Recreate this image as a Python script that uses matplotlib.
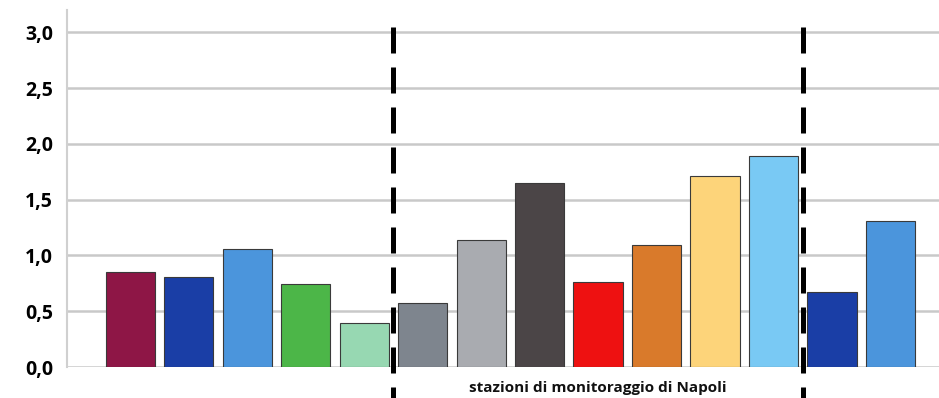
import matplotlib
matplotlib.use("Agg")
import matplotlib.pyplot as plt
import numpy as np

# values per monitoring station (index), left group / Napoli group / right group
values = [0.85, 0.81, 1.06, 0.74, 0.39,
          0.57, 1.14, 1.65, 0.76, 1.09, 1.71, 1.89,
          0.67, 1.31]
colors = ["#8e1646", "#1a3ea6", "#4b95dc", "#4cb648", "#97d8b2",
          "#7e858e", "#a9abb0", "#4b4547", "#ee1111", "#d97a2b", "#fdd47a", "#79c9f4",
          "#1a3ea6", "#4b95dc"]
yticks = [0.0, 0.5, 1.0, 1.5, 2.0, 2.5, 3.0]
ytick_labels = ["0,0", "0,5", "1,0", "1,5", "2,0", "2,5", "3,0"]
dividers = [4.5, 11.5]
group_label = "stazioni di monitoraggio di Napoli"

fig = plt.figure(figsize=(9.39, 3.98), dpi=100)
ax = fig.add_axes([67 / 939, 31 / 398, 1 - 67 / 939, 357 / 398])

x = np.arange(len(values))
ax.bar(x, values, width=0.84, color=colors, edgecolor="#3a3a3a", linewidth=0.8, zorder=3)

ax.set_xlim(-1.08, 13.83)
ax.set_ylim(0, 3.2)
ax.set_yticks(yticks)
ax.set_yticklabels(ytick_labels, fontsize=14, fontweight="bold", family="Open Sans")
ax.tick_params(axis="y", length=0, pad=10)
ax.set_xticks([])
ax.grid(axis="y", color="#c9c9c9", linewidth=1.8, zorder=0)

for s in ["top", "right", "bottom"]:
    ax.spines[s].set_visible(False)
ax.spines["left"].set_color("#d0d0d0")
ax.spines["left"].set_linewidth(1.5)

# dashed separators around the Napoli group, running below the axis
for d in dividers:
    ax.plot([d, d], [3.05, -0.3], color="black", linewidth=3.6,
            linestyle=(0, (5.2, 2.8)), clip_on=False, zorder=4)

ax.text(np.mean(dividers), -0.19, group_label, ha="center", va="center",
        fontsize=11, fontweight="bold", family="Open Sans", color="#111111")

fig.savefig("out.png", dpi=100)
